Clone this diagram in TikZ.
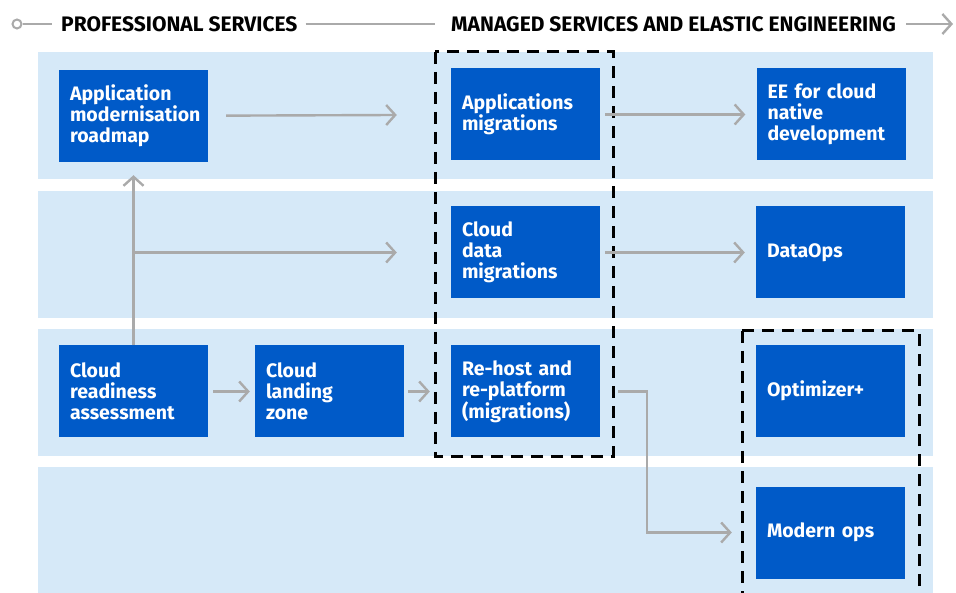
\documentclass[tikz,border=0pt]{standalone}
\usepackage{fontspec}
\setmainfont{Fira Sans}
\usetikzlibrary{arrows.meta}
\definecolor{bandblue}{HTML}{D6E9F8}
\definecolor{boxblue}{HTML}{005AC8}
\definecolor{lgray}{HTML}{AAAAAA}
\tikzset{
  band/.style={fill=bandblue, draw=none},
  svc/.style={fill=boxblue, draw=none, text=white, text width=127pt, inner xsep=11pt, inner ysep=0pt,
    minimum height=92pt, align=left, font=\fontsize{19.5}{21}\selectfont\bfseries},
  conn/.style={draw=lgray, line width=2.4pt, -{Straight Barb[length=9pt,width=20pt,line width=2.4pt]}},
  plain/.style={draw=lgray, line width=2.4pt},
  dashbox/.style={draw=black, line width=3pt, dash pattern=on 12pt off 8pt},
  hdr/.style={inner sep=0pt, anchor=west, font=\fontsize{21}{22}\selectfont\bfseries}
}
\begin{document}
\begin{tikzpicture}[x=1pt,y=-1pt]
\useasboundingbox (0,0) rectangle (956,593);
% bands
\fill[band] (38,52) rectangle (933,179);
\fill[band] (38,191) rectangle (933,318);
\fill[band] (38,329) rectangle (933,456);
\fill[band] (38,467) rectangle (933,593);
% header
\node[hdr] (ps) at (61,24) {PROFESSIONAL SERVICES};
\node[hdr] (ms) at (451,24) {MANAGED SERVICES AND ELASTIC ENGINEERING};
\node[circle, draw=lgray, line width=2pt, minimum size=9pt, inner sep=0pt] (c0) at (17,24) {};
\coordinate (hend) at (953,24);
\draw[plain, line width=2pt, shorten >=9pt] (c0) -- (ps.west);
\draw[plain, line width=2pt, shorten <=8pt, shorten >=16pt] (ps.east) -- (ms.west);
\draw[conn, line width=2pt, shorten <=10pt] (ms.east) -- (hend);
% boxes
\node[svc] (amr) at (133.5,116) {Application\\modernisation\\roadmap};
\node[svc] (am) at (525.5,114.5) {Applications\\migrations};
\node[svc] (ee) at (831,114.5) {EE for cloud\\native\\development};
\node[svc] (cdm) at (525.5,252.5) {Cloud\\data\\migrations};
\node[svc] (dops) at (830.5,252.5) {DataOps};
\node[svc] (cra) at (133.5,391.5) {Cloud\\readiness\\assessment};
\node[svc] (clz) at (329.5,391.5) {Cloud\\landing\\zone};
\node[svc] (rh) at (525.5,391.5) {Re-host and\\re-platform\\(migrations)};
\node[svc] (opt) at (830.5,391) {Optimizer+};
\node[svc] (mops) at (830.5,532.5) {Modern ops};
% dashed groups
\draw[dashbox] (435,52) rectangle (613,456);
\draw[dashbox] (742,331) rectangle (919,600);
% connectors
\draw[conn, shorten <=18pt, shorten >=54pt] (amr) -- (am);
\draw[conn, shorten <=5pt, shorten >=11pt] (am) -- (ee);
\draw[conn, shorten <=5pt, shorten >=11pt] (cdm) -- (dops);
\draw[conn, shorten >=13pt] (cra) -- (amr);
\draw[conn, shorten >=54pt] (cra.north |- cdm.west) -- (cdm.west);
\draw[conn, shorten <=5pt, shorten >=5pt] (cra) -- (clz);
\draw[conn, shorten <=4pt, shorten >=21pt] (clz) -- (rh);
\coordinate (bend) at (647,391.5);
\draw[conn, shorten <=18pt, shorten >=24pt] (rh.east) -- (bend) |- (mops.west);
\end{tikzpicture}
\end{document}
